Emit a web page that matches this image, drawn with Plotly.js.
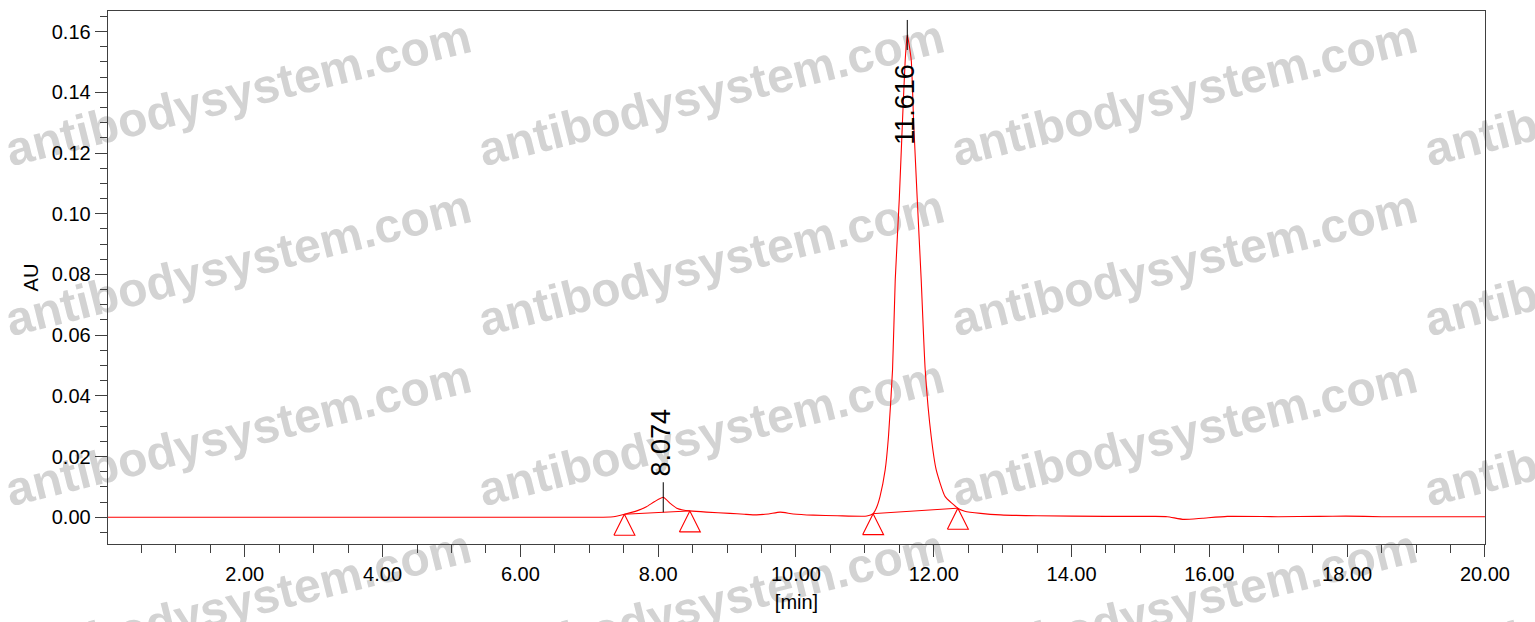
<!DOCTYPE html>
<html>
<head>
<meta charset="utf-8">
<script src="https://cdn.plot.ly/plotly-3.0.1.min.js"></script>
<style>
  html, body { margin: 0; padding: 0; background: #ffffff; }
  #chart { width: 1535px; height: 622px; }
</style>
</head>
<body>
<div id="chart"></div>
<script>
// ---- data ----
const timeMin = [0, 7.0, 7.35, 7.51, 7.7, 7.83, 7.95, 8.074, 8.18, 8.27, 8.36, 8.46, 8.7, 9.04, 9.25, 9.43, 9.6, 9.77, 9.96, 10.25, 10.6, 11.03, 11.12, 11.17, 11.22, 11.295, 11.343, 11.402, 11.441, 11.50, 11.547, 11.586, 11.616, 11.673, 11.707, 11.76, 11.818, 11.876, 11.963, 12.036, 12.166, 12.35, 12.45, 12.68, 12.97, 13.5, 14.5, 15.2, 15.39, 15.63, 15.9, 16.26, 17.0, 17.6, 17.98, 18.5, 20];
const absorbanceAU = [0, 0, 0.0002, 0.001, 0.0022, 0.0035, 0.0052, 0.0066, 0.0045, 0.003, 0.0024, 0.0021, 0.0017, 0.0013, 0.001, 0.0008, 0.0011, 0.0017, 0.0011, 0.0007, 0.0005, 0.0004, 0.0012, 0.0032, 0.0068, 0.0156, 0.0266, 0.0486, 0.0782, 0.105, 0.1309, 0.1507, 0.1589, 0.1507, 0.1309, 0.105, 0.0782, 0.0486, 0.0266, 0.0156, 0.0068, 0.003, 0.002, 0.0013, 0.0008, 0.0005, 0.0003, 0.0003, 0.0002, -0.0007, -0.0003, 0.0003, 0.0002, 0.0003, 0.0004, 0.0002, 0.0002];

const peakTimes = [8.074, 11.616];
const peakHeights = [0.0066, 0.1589];
const peakLabels = ['8.074', '11.616'];

const baseStartTime = [7.51, 11.12];
const baseStartAU = [0.001, 0.0012];
const baseEndTime = [8.46, 12.35];
const baseEndAU = [0.0021, 0.003];

const xTickVals = [2, 4, 6, 8, 10, 12, 14, 16, 18, 20];
const xTickText = ['2.00', '4.00', '6.00', '8.00', '10.00', '12.00', '14.00', '16.00', '18.00', '20.00'];
const yTickVals = [0, 0.02, 0.04, 0.06, 0.08, 0.10, 0.12, 0.14, 0.16];
const yTickText = ['0.00', '0.02', '0.04', '0.06', '0.08', '0.10', '0.12', '0.14', '0.16'];

const watermarkText = 'antibodysystem.com';

// ---- layout geometry ----
const W = 1535, H = 622;
const M = { l: 108, r: 50, t: 11, b: 78 };
const xRange = [0.015, 20.001];
const yRange = [-0.0088, 0.1668];
const plotW = W - M.l - M.r, plotH = H - M.t - M.b;
const pxX = plotW / (xRange[1] - xRange[0]);
const pxY = plotH / (yRange[1] - yRange[0]);

const FONT = '"Liberation Sans", Arial, sans-serif';

// integration baselines
const blX = [], blY = [];
for (let i = 0; i < baseStartTime.length; i++) {
  blX.push(baseStartTime[i], baseEndTime[i], null);
  blY.push(baseStartAU[i], baseEndAU[i], null);
}
// triangle markers under baseline end points
const triDx = 10.5 / pxX, triDy = 21 / pxY;
const triX = [], triY = [];
const ends = [];
for (let i = 0; i < baseStartTime.length; i++) {
  ends.push([baseStartTime[i], baseStartAU[i]], [baseEndTime[i], baseEndAU[i]]);
}
ends.forEach(([t, a]) => {
  triX.push(t - triDx, t, t + triDx, t - triDx, null);
  triY.push(a - triDy, a, a - triDy, a - triDy, null);
});
// peak apex marks
const tickHalf = 15 / pxY;
const pkX = [], pkY = [];
peakTimes.forEach((t, i) => {
  pkX.push(t, t, null);
  pkY.push(peakHeights[i] - tickHalf, peakHeights[i] + tickHalf, null);
});

const traces = [
  { x: timeMin, y: absorbanceAU, mode: 'lines', line: { color: '#ff0000', width: 1.1, shape: 'spline', smoothing: 0.5 }, hoverinfo: 'skip' },
  { x: blX, y: blY, mode: 'lines', line: { color: '#ff0000', width: 1 }, hoverinfo: 'skip' },
  { x: triX, y: triY, mode: 'lines', line: { color: '#ff0000', width: 1.1 }, hoverinfo: 'skip' },
  { x: pkX, y: pkY, mode: 'lines', line: { color: '#000000', width: 1 }, hoverinfo: 'skip' }
];

// peak labels
const annotations = peakTimes.map((t, i) => {
  const tall = peakHeights[i] > 0.1;
  return {
    x: t, y: tall ? peakHeights[i] : peakHeights[i] + tickHalf,
    xref: 'x', yref: 'y', text: peakLabels[i], showarrow: false,
    textangle: -90, xanchor: 'center', yanchor: tall ? 'top' : 'bottom',
    yshift: tall ? -27 : 4, xshift: -2,
    font: { family: FONT, size: 27, color: '#000000' }
  };
});

// watermark grid (drawn below everything)
const shapes = [];
for (let r = 0; r < 4; r++) {
  for (let c = 0; c < 4; c++) {
    const cx = 237 + 473 * c, cy = 88 + 170 * r;
    const xp = (cx - M.l) / plotW, yp = (H - M.b - cy) / plotH;
    shapes.push({
      type: 'line', xref: 'paper', yref: 'paper', layer: 'below',
      x0: xp - 0.005, x1: xp + 0.005, y0: yp, y1: yp,
      line: { width: 0, color: 'rgba(0,0,0,0)' },
      label: { text: watermarkText, textangle: -14, textposition: 'middle',
               xanchor: 'center', yanchor: 'middle', padding: 0,
               font: { family: FONT, size: 48, color: '#d3d3d3', weight: 'bold' } }
    });
  }
}

const axisCommon = {
  showgrid: false, zeroline: false, showline: true, mirror: true,
  linecolor: '#404040', linewidth: 1.3,
  ticks: 'outside', tickcolor: '#404040', tickwidth: 1, ticklen: 12,
  tickfont: { family: FONT, size: 20, color: '#000000' }
};

const layout = {
  width: W, height: H, margin: M,
  paper_bgcolor: '#ffffff', plot_bgcolor: 'rgba(0,0,0,0)',
  showlegend: false,
  xaxis: Object.assign({}, axisCommon, {
    range: xRange, tickmode: 'array', tickvals: xTickVals, ticktext: xTickText,
    minor: { dtick: 0.5, tick0: 0, ticks: 'outside', ticklen: 8, tickcolor: '#404040', tickwidth: 1 },
    title: { text: '[min]', font: { family: FONT, size: 20, color: '#000000' }, standoff: 10 }
  }),
  yaxis: Object.assign({}, axisCommon, {
    range: yRange, tickmode: 'array', tickvals: yTickVals, ticktext: yTickText,
    minor: { dtick: 0.005, tick0: 0, ticks: 'outside', ticklen: 7, tickcolor: '#404040', tickwidth: 1 },
    title: { text: 'AU', font: { family: FONT, size: 20, color: '#000000' }, standoff: 7 }
  }),
  annotations: annotations,
  shapes: shapes
};

Plotly.newPlot('chart', traces, layout, { displayModeBar: false, staticPlot: true });
</script>
</body>
</html>
